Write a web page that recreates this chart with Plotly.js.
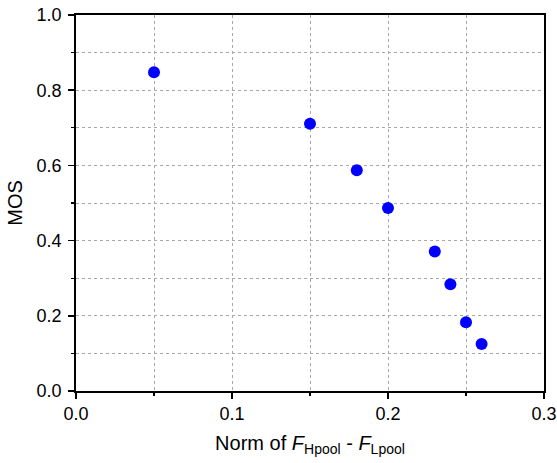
<!DOCTYPE html>
<html>
<head>
<meta charset="utf-8">
<script src="https://cdn.plot.ly/plotly-3.0.1.min.js"></script>
<style>html,body{margin:0;padding:0;background:#fff;}</style>
</head>
<body>
<div id="chart" style="width:557px;height:463px;"></div>
<script>
const normDiff = [0.05, 0.15, 0.18, 0.20, 0.23, 0.24, 0.25, 0.26];
const mos = [0.848, 0.711, 0.587, 0.487, 0.371, 0.284, 0.183, 0.125];
const xTickVals = [0.0, 0.1, 0.2, 0.3];
const xTickText = ['0.0', '0.1', '0.2', '0.3'];
const yTickVals = [0.0, 0.2, 0.4, 0.6, 0.8, 1.0];
const yTickText = ['0.0', '0.2', '0.4', '0.6', '0.8', '1.0'];

const tickFont = {family: 'Arial, "Liberation Sans", sans-serif', size: 18, color: '#000'};
const titleFont = {family: 'Arial, "Liberation Sans", sans-serif', size: 20, color: '#000'};

Plotly.newPlot('chart', [{
  x: normDiff, y: mos, type: 'scatter', mode: 'markers',
  marker: {color: '#0000ff', size: 12, line: {width: 0}},
  showlegend: false
}], {
  width: 557, height: 463,
  margin: {l: 76, r: 13, t: 15, b: 71.5},
  paper_bgcolor: '#fff', plot_bgcolor: '#fff',
  font: tickFont,
  xaxis: {
    range: [0, 0.3], tickvals: xTickVals, ticktext: xTickText,
    ticks: 'outside', ticklen: 6, tickwidth: 1.5, tickcolor: '#000',
    showline: true, linecolor: '#000', linewidth: 1.8, mirror: true,
    zeroline: false, tickfont: tickFont,
    showgrid: true, gridcolor: '#a8a8a8', griddash: 'dot', gridwidth: 1,
    minor: {dtick: 0.05, tick0: 0, ticks: 'outside', ticklen: 3, tickwidth: 1.2, tickcolor: '#000', showgrid: true, gridcolor: '#a8a8a8', griddash: 'dot', gridwidth: 1},
    title: {text: 'Norm of <i>F</i><sub>Hpool</sub> - <i>F</i><sub>Lpool</sub>', font: titleFont, standoff: 12}
  },
  yaxis: {
    range: [0, 1.0], tickvals: yTickVals, ticktext: yTickText,
    ticks: 'outside', ticklen: 6, tickwidth: 1.5, tickcolor: '#000',
    showline: true, linecolor: '#000', linewidth: 1.8, mirror: true,
    zeroline: false, tickfont: tickFont, ticklabelstandoff: 3,
    showgrid: true, gridcolor: '#a8a8a8', griddash: 'dot', gridwidth: 1,
    minor: {dtick: 0.1, tick0: 0, ticks: 'outside', ticklen: 3, tickwidth: 1.2, tickcolor: '#000', showgrid: true, gridcolor: '#a8a8a8', griddash: 'dot', gridwidth: 1},
    title: {text: 'MOS', font: titleFont, standoff: 8}
  }
}, {staticPlot: true});
</script>
</body>
</html>
